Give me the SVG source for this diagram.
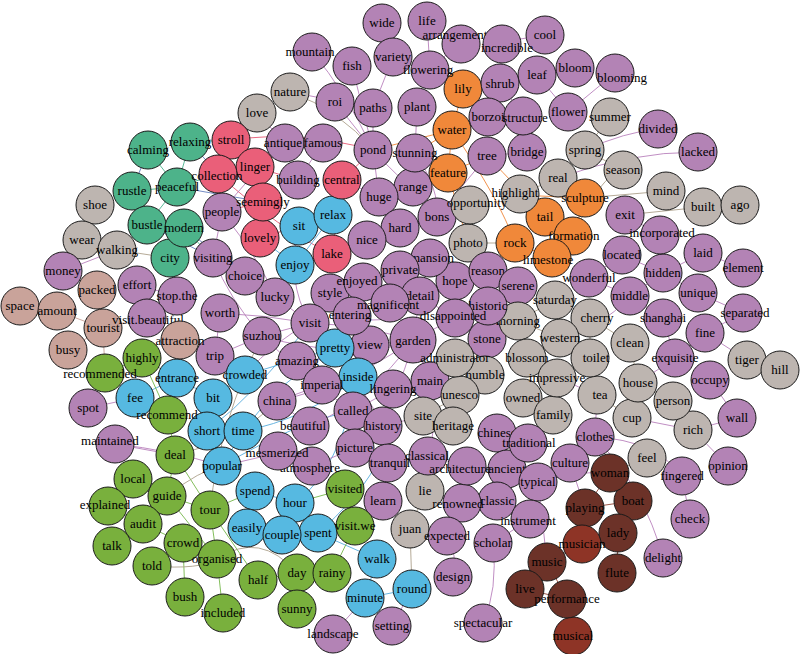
<svg xmlns="http://www.w3.org/2000/svg" width="800" height="654" viewBox="0 0 800 654">
<style>
circle{stroke:#1a1a1a;stroke-width:1}
text{font-family:"Liberation Serif","Times New Roman",serif;font-size:13px;text-anchor:middle;fill:#000}
.p circle{fill:#B383B5}.y circle{fill:#BDB5B0}.t circle{fill:#4DB38A}.r circle{fill:#EA5F79}
.b circle{fill:#56B9E1}.o circle{fill:#F0883A}.g circle{fill:#79B03D}.s circle{fill:#C9A39A}
.d circle{fill:#6C3228}.m circle{fill:#8E3426}
#edges path{fill:none;stroke-width:1;opacity:.85}
.ep{stroke:#B57AB8}.eg{stroke:#A89B85}.eb{stroke:#4FA8DA}.eG{stroke:#6DB33F}.er{stroke:#E4506C}
.eo{stroke:#EE7F2D}.et{stroke:#3FAE86}.es{stroke:#C49A90}.ed{stroke:#8A3A2A}.ek{stroke:#5A76B8}
</style>
<rect width="800" height="654" fill="#fff"/>
<g id="edges">
<path class="et" d="M148,150L177,187M190,142L177,187M132,191L177,187M177,187L147,225M147,225L184,228M184,228L170,258M190,142L231,140M177,187L218,174M184,228L213,258M170,258L177,296"/>
<path class="ek" d="M148,150L132,191M190,142L218,174M184,228L245,276M177,187L263,202M147,225Q200,250 245,276"/>
<path class="er" d="M231,140L255,167M255,167L218,174M263,202L260,238M342,180L373,150M332,254L342,180M263,202L222,212M255,167L298,180M260,238L299,226M231,140Q300,130 373,150M218,174Q280,230 332,254"/>
<path class="eb" d="M299,226L333,215M295,265L260,238M335,348L358,377M245,375L213,398M213,398L207,431M207,431L243,431M243,431L222,466M135,398L177,378M255,491L295,503M295,503L318,533M282,535L318,533M247,528L282,535M318,533L377,559M377,559L365,598M365,598L412,589M255,491L247,528M243,431Q305,420 358,377M245,375L335,348M295,265L333,215M177,378L213,398M295,503Q340,470 358,377M318,533Q390,470 383,426M243,431Q280,380 335,348M207,431Q260,390 310,323M222,466Q300,420 353,411"/>
<path class="eo" d="M463,89L452,130M452,130L448,173M448,173L413,187M452,130L373,150M448,173L487,156M545,217L515,243M515,243L552,258M573,236L585,198M545,217L573,236M585,198L518,195M448,173L468,243M463,89L488,117M452,130L415,153M448,173L470,205M552,258L573,236M487,156Q520,190 545,217M452,130Q500,200 515,243"/>
<path class="eG" d="M142,358L105,373M142,358L168,415M168,415L175,455M175,455L167,496M167,496L133,479M133,479L108,506M108,506L143,524M143,524L183,543M183,543L152,566M183,543L217,559M210,510L217,559M210,510L258,580M210,510L255,491M217,559L223,613M185,597L183,543M297,573L297,609M297,573L332,573M258,580L297,573M345,489L355,526M332,573L355,526M345,489L295,503M167,496L210,510M143,524L112,546M142,358L177,378M175,455L210,510M167,496L217,559"/>
<path class="eg" d="M290,92Q340,110 373,150M468,243L515,243M95,205L82,240M82,240L117,250M117,250L170,258M470,205L468,243M558,178L585,150M558,178L518,195M585,150L610,117M623,170L585,150M666,191L585,198M703,207L625,215M703,207L740,205M555,300L518,321M518,321L560,338M527,358L560,338M590,358L590,318M630,343L590,318M455,358L485,375M485,375L460,395M460,395L423,416M423,416L453,426M523,398L557,378M557,378L553,415M597,395L632,418M638,383L630,343M673,401L638,383M747,360L780,370M647,458L610,473M425,491L410,529M410,529L412,589M152,566Q200,570 217,559M167,496Q200,470 222,466M257,113L231,140M262,336Q220,420 210,510M175,455Q240,440 277,401M217,559Q260,530 297,573M623,170Q600,175 573,236"/>
<path class="es" d="M97,290L103,328M20,306L57,311M57,311L103,328M68,350L103,328M103,328L147,318M180,340L147,318M103,328L105,373"/>
<path class="ep" d="M312,52Q345,90 373,150M352,66L373,150M335,102L373,150M373,108L373,150M393,57L373,108M382,23L393,57M427,21L430,70M460,42L430,70M502,42L500,83M545,35L502,42M575,68L537,75M537,75L568,112M615,73L568,112M500,83L523,116M488,117L523,116M523,116L527,152M487,156L527,152M417,107L415,153M415,153L413,187M373,150L379,197M379,197L400,228M367,240L400,228M437,217L400,228M430,258L400,270M400,270L420,296M455,281L488,271M488,271L488,306M488,306L487,339M455,318L420,296M413,340L370,345M370,345L352,316M310,323L262,336M310,323L330,293M330,293L363,282M275,297L245,276M245,276L213,258M220,313L215,356M215,356L262,336M297,361L322,385M322,385L277,401M277,401L310,426M353,411L383,426M383,426L355,448M355,448L388,463M388,463L383,501M428,456L467,466M467,466L507,469M507,469L538,482M538,482L530,519M497,501L530,519M462,503L447,536M447,536Q458,555 453,577M493,543Q498,590 483,623M530,519L493,543M538,482L547,562M570,463L585,508M682,476Q655,440 595,437M690,519L682,476M663,558Q645,490 595,437M728,466L693,430M710,380L737,418M675,358L705,333M705,333L743,313M698,293L743,313M703,253L743,268M660,235L625,215M622,255L663,273M663,273L630,296M630,296L663,318M589,278L622,255M658,129Q625,132 585,150M698,152Q630,152 558,178M137,285L177,296M63,271L117,250M147,318L177,296M115,444L175,455M115,444Q170,450 222,466M88,408L135,398M333,634L365,598M392,626L412,589M285,143L323,143M298,180L323,143M290,92L373,108M257,113L285,143M222,212L213,258M430,381L413,340M393,389L353,411M497,433L528,443M595,437L570,463M312,466L278,453M312,466L355,448M278,453L222,466M675,358L663,318M693,430L632,418M737,418L693,430M310,323Q360,325 413,340M262,336Q340,360 413,340M277,401Q350,385 413,340M299,226Q285,280 310,323M245,375Q275,340 310,323M213,258Q230,300 262,336M310,426Q370,400 413,340M310,323Q360,380 383,426M413,340Q445,400 428,456M413,340Q400,400 355,448M245,276Q280,300 310,323M220,313Q265,315 310,323M222,212Q260,260 275,297M297,361Q355,360 413,340M363,282Q400,310 413,340M262,336Q320,390 353,411M455,318L413,340M420,296L413,340M430,381L460,395M383,426L423,416M388,463L428,456M352,316Q390,330 420,296M330,293L370,345M447,536L410,529M462,503L425,491M538,482Q580,470 610,473M663,273L703,253M698,293L663,273M630,296L589,278M638,383L675,358M705,333L747,360M595,437L597,395M373,150Q400,180 413,187M285,143Q250,175 222,212M380,197L342,180M487,156L437,217M415,153Q440,190 437,217M560,338Q600,330 630,296M527,358Q560,380 597,395"/>
<path class="ed" d="M547,562L567,599M525,589L567,599M547,562L582,544M582,544L585,508M585,508L633,501M633,501L618,533M618,533L617,573M610,473L633,501M573,636L567,599M610,473L585,508M582,544L618,533"/>
</g>
<g id="n-wide" class="p"><circle cx="382" cy="23" r="19"/><text x="382" y="27">wide</text></g>
<g id="n-life" class="p"><circle cx="427" cy="21" r="19"/><text x="427" y="25">life</text></g>
<g id="n-cool" class="p"><circle cx="545" cy="35" r="19"/><text x="545" y="39">cool</text></g>
<g id="n-fish" class="p"><circle cx="352" cy="66" r="19"/><text x="352" y="70">fish</text></g>
<g id="n-leaf" class="p"><circle cx="537" cy="75" r="19"/><text x="537" y="79">leaf</text></g>
<g id="n-bloom" class="p"><circle cx="575" cy="68" r="19"/><text x="575" y="72">bloom</text></g>
<g id="n-lily" class="o"><circle cx="463" cy="89" r="19"/><text x="463" y="93">lily</text></g>
<g id="n-shrub" class="p"><circle cx="500" cy="83" r="19"/><text x="500" y="88">shrub</text></g>
<g id="n-roi" class="p"><circle cx="335" cy="102" r="19"/><text x="335" y="106">roi</text></g>
<g id="n-paths" class="p"><circle cx="373" cy="108" r="19"/><text x="373" y="112">paths</text></g>
<g id="n-plant" class="p"><circle cx="417" cy="107" r="19"/><text x="417" y="111">plant</text></g>
<g id="n-love" class="y"><circle cx="257" cy="113" r="19"/><text x="257" y="117">love</text></g>
<g id="n-water" class="o"><circle cx="452" cy="130" r="19"/><text x="452" y="134">water</text></g>
<g id="n-stroll" class="r"><circle cx="231" cy="140" r="19"/><text x="231" y="144">stroll</text></g>
<g id="n-pond" class="p"><circle cx="373" cy="150" r="19"/><text x="373" y="154">pond</text></g>
<g id="n-tree" class="p"><circle cx="487" cy="156" r="19"/><text x="487" y="160">tree</text></g>
<g id="n-range" class="p"><circle cx="413" cy="187" r="19"/><text x="413" y="191">range</text></g>
<g id="n-real" class="y"><circle cx="558" cy="178" r="19"/><text x="558" y="182">real</text></g>
<g id="n-huge" class="p"><circle cx="379" cy="197" r="19"/><text x="379" y="201">huge</text></g>
<g id="n-mind" class="y"><circle cx="666" cy="191" r="19"/><text x="666" y="195">mind</text></g>
<g id="n-shoe" class="y"><circle cx="95" cy="205" r="19"/><text x="95" y="209">shoe</text></g>
<g id="n-sit" class="b"><circle cx="299" cy="226" r="19"/><text x="299" y="230">sit</text></g>
<g id="n-relax" class="b"><circle cx="333" cy="215" r="19"/><text x="333" y="219">relax</text></g>
<g id="n-hard" class="p"><circle cx="400" cy="228" r="19"/><text x="400" y="232">hard</text></g>
<g id="n-bons" class="p"><circle cx="437" cy="217" r="19"/><text x="437" y="221">bons</text></g>
<g id="n-tail" class="o"><circle cx="545" cy="217" r="19"/><text x="545" y="221">tail</text></g>
<g id="n-exit" class="p"><circle cx="625" cy="215" r="19"/><text x="625" y="219">exit</text></g>
<g id="n-built" class="y"><circle cx="703" cy="207" r="19"/><text x="703" y="211">built</text></g>
<g id="n-ago" class="y"><circle cx="740" cy="205" r="19"/><text x="740" y="209">ago</text></g>
<g id="n-wear" class="y"><circle cx="82" cy="240" r="19"/><text x="82" y="244">wear</text></g>
<g id="n-nice" class="p"><circle cx="367" cy="240" r="19"/><text x="367" y="244">nice</text></g>
<g id="n-photo" class="y"><circle cx="468" cy="243" r="19"/><text x="468" y="247">photo</text></g>
<g id="n-rock" class="o"><circle cx="515" cy="243" r="19"/><text x="515" y="247">rock</text></g>
<g id="n-city" class="t"><circle cx="170" cy="258" r="19"/><text x="170" y="262">city</text></g>
<g id="n-enjoy" class="b"><circle cx="295" cy="265" r="19"/><text x="295" y="269">enjoy</text></g>
<g id="n-lake" class="r"><circle cx="332" cy="254" r="19"/><text x="332" y="258">lake</text></g>
<g id="n-laid" class="p"><circle cx="703" cy="253" r="19"/><text x="703" y="257">laid</text></g>
<g id="n-money" class="p"><circle cx="63" cy="271" r="19"/><text x="63" y="275">money</text></g>
<g id="n-hope" class="p"><circle cx="455" cy="281" r="19"/><text x="455" y="285">hope</text></g>
<g id="n-lucky" class="p"><circle cx="275" cy="297" r="19"/><text x="275" y="301">lucky</text></g>
<g id="n-style" class="p"><circle cx="330" cy="293" r="19"/><text x="330" y="297">style</text></g>
<g id="n-space" class="s"><circle cx="20" cy="306" r="19"/><text x="20" y="310">space</text></g>
<g id="n-worth" class="p"><circle cx="220" cy="313" r="19"/><text x="220" y="317">worth</text></g>
<g id="n-visit" class="p"><circle cx="310" cy="323" r="19"/><text x="310" y="327">visit</text></g>
<g id="n-fine" class="p"><circle cx="705" cy="333" r="19"/><text x="705" y="337">fine</text></g>
<g id="n-busy" class="s"><circle cx="68" cy="350" r="19"/><text x="68" y="354">busy</text></g>
<g id="n-view" class="p"><circle cx="370" cy="345" r="19"/><text x="370" y="349">view</text></g>
<g id="n-stone" class="p"><circle cx="487" cy="339" r="19"/><text x="487" y="343">stone</text></g>
<g id="n-clean" class="y"><circle cx="630" cy="343" r="19"/><text x="630" y="347">clean</text></g>
<g id="n-trip" class="p"><circle cx="215" cy="356" r="19"/><text x="215" y="360">trip</text></g>
<g id="n-tiger" class="y"><circle cx="747" cy="360" r="19"/><text x="747" y="364">tiger</text></g>
<g id="n-hill" class="y"><circle cx="780" cy="370" r="19"/><text x="780" y="374">hill</text></g>
<g id="n-fee" class="b"><circle cx="135" cy="398" r="19"/><text x="135" y="402">fee</text></g>
<g id="n-bit" class="b"><circle cx="213" cy="398" r="19"/><text x="213" y="402">bit</text></g>
<g id="n-main" class="p"><circle cx="430" cy="381" r="19"/><text x="430" y="385">main</text></g>
<g id="n-tea" class="y"><circle cx="597" cy="395" r="19"/><text x="600" y="399">tea</text></g>
<g id="n-spot" class="p"><circle cx="88" cy="408" r="19"/><text x="88" y="412">spot</text></g>
<g id="n-china" class="p"><circle cx="277" cy="401" r="19"/><text x="277" y="405">china</text></g>
<g id="n-site" class="y"><circle cx="423" cy="416" r="19"/><text x="423" y="420">site</text></g>
<g id="n-cup" class="y"><circle cx="632" cy="418" r="19"/><text x="632" y="422">cup</text></g>
<g id="n-wall" class="p"><circle cx="737" cy="418" r="19"/><text x="737" y="422">wall</text></g>
<g id="n-rich" class="y"><circle cx="693" cy="430" r="19"/><text x="693" y="434">rich</text></g>
<g id="n-short" class="b"><circle cx="207" cy="431" r="19"/><text x="207" y="435">short</text></g>
<g id="n-time" class="b"><circle cx="243" cy="431" r="19"/><text x="243" y="435">time</text></g>
<g id="n-deal" class="g"><circle cx="175" cy="455" r="19"/><text x="175" y="459">deal</text></g>
<g id="n-feel" class="y"><circle cx="647" cy="458" r="19"/><text x="647" y="462">feel</text></g>
<g id="n-local" class="g"><circle cx="133" cy="479" r="19"/><text x="133" y="483">local</text></g>
<g id="n-guide" class="g"><circle cx="167" cy="496" r="19"/><text x="167" y="500">guide</text></g>
<g id="n-spend" class="b"><circle cx="255" cy="491" r="19"/><text x="255" y="495">spend</text></g>
<g id="n-hour" class="b"><circle cx="295" cy="503" r="19"/><text x="295" y="507">hour</text></g>
<g id="n-learn" class="p"><circle cx="383" cy="501" r="19"/><text x="383" y="505">learn</text></g>
<g id="n-lie" class="y"><circle cx="425" cy="491" r="19"/><text x="425" y="495">lie</text></g>
<g id="n-boat" class="d"><circle cx="633" cy="501" r="19"/><text x="633" y="505">boat</text></g>
<g id="n-tour" class="g"><circle cx="210" cy="510" r="19"/><text x="210" y="514">tour</text></g>
<g id="n-audit" class="g"><circle cx="143" cy="524" r="19"/><text x="143" y="528">audit</text></g>
<g id="n-spent" class="b"><circle cx="318" cy="533" r="19"/><text x="318" y="537">spent</text></g>
<g id="n-juan" class="y"><circle cx="410" cy="529" r="19"/><text x="410" y="533">juan</text></g>
<g id="n-lady" class="d"><circle cx="618" cy="533" r="19"/><text x="618" y="537">lady</text></g>
<g id="n-check" class="p"><circle cx="690" cy="519" r="19"/><text x="690" y="523">check</text></g>
<g id="n-talk" class="g"><circle cx="112" cy="546" r="19"/><text x="112" y="550">talk</text></g>
<g id="n-crowd" class="g"><circle cx="183" cy="543" r="19"/><text x="183" y="547">crowd</text></g>
<g id="n-told" class="g"><circle cx="152" cy="566" r="19"/><text x="152" y="570">told</text></g>
<g id="n-walk" class="b"><circle cx="377" cy="559" r="19"/><text x="377" y="563">walk</text></g>
<g id="n-day" class="g"><circle cx="297" cy="573" r="19"/><text x="297" y="577">day</text></g>
<g id="n-half" class="g"><circle cx="258" cy="580" r="19"/><text x="258" y="584">half</text></g>
<g id="n-rainy" class="g"><circle cx="332" cy="573" r="19"/><text x="332" y="577">rainy</text></g>
<g id="n-round" class="b"><circle cx="412" cy="589" r="19"/><text x="412" y="593">round</text></g>
<g id="n-music" class="d"><circle cx="547" cy="562" r="19"/><text x="547" y="566">music</text></g>
<g id="n-flute" class="d"><circle cx="617" cy="573" r="19"/><text x="617" y="577">flute</text></g>
<g id="n-bush" class="g"><circle cx="185" cy="597" r="19"/><text x="185" y="601">bush</text></g>
<g id="n-sunny" class="g"><circle cx="297" cy="609" r="19"/><text x="297" y="613">sunny</text></g>
<g id="n-live" class="d"><circle cx="525" cy="589" r="19"/><text x="525" y="593">live</text></g>
<g id="n-calming" class="t"><circle cx="148" cy="150" r="19"/><text x="148" y="154">calming</text></g>
<g id="n-rustle" class="t"><circle cx="132" cy="191" r="19"/><text x="132" y="195">rustle</text></g>
<g id="n-bustle" class="t"><circle cx="147" cy="225" r="19"/><text x="147" y="229">bustle</text></g>
<g id="n-modern" class="t"><circle cx="184" cy="228" r="19"/><text x="184" y="232">modern</text></g>
<g id="n-variety" class="p"><circle cx="393" cy="57" r="19"/><text x="393" y="61">variety</text></g>
<g id="n-nature" class="y"><circle cx="290" cy="92" r="19"/><text x="290" y="96">nature</text></g>
<g id="n-flower" class="p"><circle cx="568" cy="112" r="19"/><text x="568" y="116">flower</text></g>
<g id="n-borzoi" class="p"><circle cx="488" cy="117" r="19"/><text x="488" y="121">borzoi</text></g>
<g id="n-summer" class="y"><circle cx="610" cy="117" r="19"/><text x="610" y="121">summer</text></g>
<g id="n-divided" class="p"><circle cx="658" cy="129" r="19"/><text x="658" y="133">divided</text></g>
<g id="n-antique" class="p"><circle cx="285" cy="143" r="19"/><text x="283" y="147">antique</text></g>
<g id="n-famous" class="p"><circle cx="323" cy="143" r="19"/><text x="323" y="147">famous</text></g>
<g id="n-bridge" class="p"><circle cx="527" cy="152" r="19"/><text x="527" y="156">bridge</text></g>
<g id="n-spring" class="y"><circle cx="585" cy="150" r="19"/><text x="585" y="154">spring</text></g>
<g id="n-lacked" class="p"><circle cx="698" cy="152" r="19"/><text x="698" y="156">lacked</text></g>
<g id="n-linger" class="r"><circle cx="255" cy="167" r="19"/><text x="255" y="171">linger</text></g>
<g id="n-central" class="r"><circle cx="342" cy="180" r="19"/><text x="342" y="184">central</text></g>
<g id="n-feature" class="o"><circle cx="448" cy="173" r="19"/><text x="448" y="177">feature</text></g>
<g id="n-season" class="y"><circle cx="623" cy="170" r="19"/><text x="623" y="174">season</text></g>
<g id="n-people" class="p"><circle cx="222" cy="212" r="19"/><text x="222" y="216">people</text></g>
<g id="n-lovely" class="r"><circle cx="260" cy="238" r="19"/><text x="260" y="242">lovely</text></g>
<g id="n-walking" class="y"><circle cx="117" cy="250" r="19"/><text x="117" y="254">walking</text></g>
<g id="n-mansion" class="p"><circle cx="430" cy="258" r="19"/><text x="432" y="262">mansion</text></g>
<g id="n-private" class="p"><circle cx="400" cy="270" r="19"/><text x="400" y="274">private</text></g>
<g id="n-located" class="p"><circle cx="622" cy="255" r="19"/><text x="622" y="259">located</text></g>
<g id="n-choice" class="p"><circle cx="245" cy="276" r="19"/><text x="245" y="280">choice</text></g>
<g id="n-enjoyed" class="p"><circle cx="363" cy="282" r="19"/><text x="357" y="285">enjoyed</text></g>
<g id="n-reason" class="p"><circle cx="488" cy="271" r="19"/><text x="488" y="275">reason</text></g>
<g id="n-hidden" class="p"><circle cx="663" cy="273" r="19"/><text x="663" y="277">hidden</text></g>
<g id="n-element" class="p"><circle cx="743" cy="268" r="19"/><text x="743" y="272">element</text></g>
<g id="n-packed" class="s"><circle cx="97" cy="290" r="19"/><text x="97" y="294">packed</text></g>
<g id="n-effort" class="p"><circle cx="137" cy="285" r="19"/><text x="137" y="289">effort</text></g>
<g id="n-serene" class="p"><circle cx="518" cy="286" r="19"/><text x="518" y="290">serene</text></g>
<g id="n-middle" class="p"><circle cx="630" cy="296" r="19"/><text x="630" y="300">middle</text></g>
<g id="n-unique" class="p"><circle cx="698" cy="293" r="19"/><text x="698" y="297">unique</text></g>
<g id="n-amount" class="s"><circle cx="57" cy="311" r="19"/><text x="57" y="315">amount</text></g>
<g id="n-tourist" class="s"><circle cx="103" cy="328" r="19"/><text x="103" y="332">tourist</text></g>
<g id="n-suzhou" class="p"><circle cx="262" cy="336" r="19"/><text x="262" y="340">suzhou</text></g>
<g id="n-morning" class="y"><circle cx="518" cy="321" r="19"/><text x="518" y="325">morning</text></g>
<g id="n-cherry" class="y"><circle cx="590" cy="318" r="19"/><text x="597" y="322">cherry</text></g>
<g id="n-pretty" class="b"><circle cx="335" cy="348" r="19"/><text x="335" y="352">pretty</text></g>
<g id="n-garden" class="p"><circle cx="413" cy="340" r="23"/><text x="413" y="345">garden</text></g>
<g id="n-western" class="y"><circle cx="560" cy="338" r="19"/><text x="560" y="342">western</text></g>
<g id="n-amazing" class="p"><circle cx="297" cy="361" r="19"/><text x="297" y="365">amazing</text></g>
<g id="n-blossom" class="y"><circle cx="527" cy="358" r="19"/><text x="527" y="362">blossom</text></g>
<g id="n-toilet" class="y"><circle cx="590" cy="358" r="19"/><text x="596" y="362">toilet</text></g>
<g id="n-crowded" class="b"><circle cx="245" cy="375" r="19"/><text x="245" y="379">crowded</text></g>
<g id="n-inside" class="b"><circle cx="358" cy="377" r="19"/><text x="358" y="381">inside</text></g>
<g id="n-humble" class="y"><circle cx="485" cy="375" r="19"/><text x="485" y="379">humble</text></g>
<g id="n-house" class="y"><circle cx="638" cy="383" r="19"/><text x="638" y="387">house</text></g>
<g id="n-occupy" class="p"><circle cx="710" cy="380" r="19"/><text x="710" y="384">occupy</text></g>
<g id="n-unesco" class="y"><circle cx="460" cy="395" r="19"/><text x="460" y="399">unesco</text></g>
<g id="n-owned" class="y"><circle cx="523" cy="398" r="19"/><text x="523" y="402">owned</text></g>
<g id="n-person" class="y"><circle cx="673" cy="401" r="19"/><text x="673" y="405">person</text></g>
<g id="n-called" class="p"><circle cx="353" cy="411" r="19"/><text x="353" y="415">called</text></g>
<g id="n-family" class="y"><circle cx="553" cy="415" r="19"/><text x="553" y="419">family</text></g>
<g id="n-history" class="p"><circle cx="383" cy="426" r="19"/><text x="383" y="430">history</text></g>
<g id="n-chinese" class="p"><circle cx="497" cy="433" r="19"/><text x="497" y="437">chinese</text></g>
<g id="n-clothes" class="p"><circle cx="595" cy="437" r="19"/><text x="595" y="441">clothes</text></g>
<g id="n-popular" class="b"><circle cx="222" cy="466" r="19"/><text x="222" y="470">popular</text></g>
<g id="n-picture" class="p"><circle cx="355" cy="448" r="19"/><text x="355" y="452">picture</text></g>
<g id="n-ancient" class="p"><circle cx="507" cy="469" r="19"/><text x="507" y="473">ancient</text></g>
<g id="n-culture" class="p"><circle cx="570" cy="463" r="19"/><text x="570" y="467">culture</text></g>
<g id="n-woman" class="d"><circle cx="610" cy="473" r="19"/><text x="610" y="477">woman</text></g>
<g id="n-opinion" class="p"><circle cx="728" cy="466" r="19"/><text x="728" y="470">opinion</text></g>
<g id="n-visited" class="g"><circle cx="345" cy="489" r="19"/><text x="345" y="493">visited</text></g>
<g id="n-typical" class="p"><circle cx="538" cy="482" r="19"/><text x="538" y="486">typical</text></g>
<g id="n-classic" class="p"><circle cx="497" cy="501" r="19"/><text x="497" y="505">classic</text></g>
<g id="n-playing" class="d"><circle cx="585" cy="508" r="19"/><text x="585" y="512">playing</text></g>
<g id="n-easily" class="b"><circle cx="247" cy="528" r="19"/><text x="247" y="532">easily</text></g>
<g id="n-couple" class="b"><circle cx="282" cy="535" r="19"/><text x="282" y="539">couple</text></g>
<g id="n-scholar" class="p"><circle cx="493" cy="543" r="19"/><text x="493" y="547">scholar</text></g>
<g id="n-design" class="p"><circle cx="453" cy="577" r="19"/><text x="453" y="581">design</text></g>
<g id="n-delight" class="p"><circle cx="663" cy="558" r="19"/><text x="663" y="562">delight</text></g>
<g id="n-minute" class="b"><circle cx="365" cy="598" r="19"/><text x="365" y="602">minute</text></g>
<g id="n-setting" class="p"><circle cx="392" cy="626" r="19"/><text x="392" y="630">setting</text></g>
<g id="n-musical" class="m"><circle cx="573" cy="636" r="19"/><text x="573" y="640">musical</text></g>
<g id="n-relaxing" class="t"><circle cx="190" cy="142" r="19"/><text x="190" y="146">relaxing</text></g>
<g id="n-peaceful" class="t"><circle cx="177" cy="187" r="19"/><text x="177" y="191">peaceful</text></g>
<g id="n-mountain" class="p"><circle cx="312" cy="52" r="19"/><text x="310" y="56">mountain</text></g>
<g id="n-flowering" class="p"><circle cx="430" cy="70" r="19"/><text x="428" y="74">flowering</text></g>
<g id="n-blooming" class="p"><circle cx="615" cy="73" r="19"/><text x="622" y="82">blooming</text></g>
<g id="n-structure" class="p"><circle cx="523" cy="116" r="19"/><text x="525" y="122">structure</text></g>
<g id="n-stunning" class="p"><circle cx="415" cy="153" r="19"/><text x="415" y="157">stunning</text></g>
<g id="n-building" class="p"><circle cx="298" cy="180" r="19"/><text x="298" y="184">building</text></g>
<g id="n-seemingly" class="r"><circle cx="263" cy="202" r="19"/><text x="263" y="206">seemingly</text></g>
<g id="n-highlight" class="y"><circle cx="520" cy="194" r="19"/><text x="515" y="197">highlight</text></g>
<g id="n-sculpture" class="o"><circle cx="585" cy="198" r="19"/><text x="585" y="202">sculpture</text></g>
<g id="n-formation" class="o"><circle cx="573" cy="236" r="19"/><text x="574" y="240">formation</text></g>
<g id="n-limestone" class="o"><circle cx="552" cy="258" r="19"/><text x="548" y="264">limestone</text></g>
<g id="n-visiting" class="p"><circle cx="213" cy="258" r="19"/><text x="213" y="262">visiting</text></g>
<g id="n-stop.the" class="p"><circle cx="177" cy="296" r="19"/><text x="177" y="300">stop.the</text></g>
<g id="n-wonderful" class="p"><circle cx="589" cy="278" r="19"/><text x="589" y="282">wonderful</text></g>
<g id="n-saturday" class="y"><circle cx="555" cy="300" r="19"/><text x="555" y="304">saturday</text></g>
<g id="n-entering" class="p"><circle cx="352" cy="316" r="19"/><text x="350" y="319">entering</text></g>
<g id="n-shanghai" class="p"><circle cx="663" cy="318" r="19"/><text x="663" y="322">shanghai</text></g>
<g id="n-separated" class="p"><circle cx="743" cy="313" r="19"/><text x="745" y="317">separated</text></g>
<g id="n-historic" class="p"><circle cx="488" cy="306" r="19"/><text x="488" y="310">historic</text></g>
<g id="n-exquisite" class="p"><circle cx="675" cy="358" r="19"/><text x="675" y="362">exquisite</text></g>
<g id="n-lingering" class="p"><circle cx="393" cy="389" r="19"/><text x="393" y="393">lingering</text></g>
<g id="n-imperial" class="p"><circle cx="322" cy="385" r="19"/><text x="322" y="389">imperial</text></g>
<g id="n-entrance" class="b"><circle cx="177" cy="378" r="19"/><text x="177" y="382">entrance</text></g>
<g id="n-highly" class="g"><circle cx="142" cy="358" r="19"/><text x="142" y="362">highly</text></g>
<g id="n-recommend" class="g"><circle cx="168" cy="415" r="19"/><text x="167" y="419">recommend</text></g>
<g id="n-beautiful" class="p"><circle cx="310" cy="426" r="19"/><text x="303" y="430">beautiful</text></g>
<g id="n-heritage" class="y"><circle cx="453" cy="426" r="19"/><text x="453" y="430">heritage</text></g>
<g id="n-tranquil" class="p"><circle cx="388" cy="463" r="19"/><text x="390" y="467">tranquil</text></g>
<g id="n-classical" class="p"><circle cx="428" cy="456" r="19"/><text x="427" y="460">classical</text></g>
<g id="n-fingered" class="p"><circle cx="682" cy="476" r="19"/><text x="682" y="480">fingered</text></g>
<g id="n-explained" class="g"><circle cx="108" cy="506" r="19"/><text x="105" y="509">explained</text></g>
<g id="n-renowned" class="p"><circle cx="462" cy="503" r="19"/><text x="458" y="508">renowned</text></g>
<g id="n-visit.we" class="g"><circle cx="355" cy="526" r="19"/><text x="355" y="530">visit.we</text></g>
<g id="n-expected" class="p"><circle cx="447" cy="536" r="19"/><text x="447" y="540">expected</text></g>
<g id="n-musician" class="m"><circle cx="582" cy="544" r="19"/><text x="582" y="548">musician</text></g>
<g id="n-organised" class="g"><circle cx="217" cy="559" r="19"/><text x="217" y="563">organised</text></g>
<g id="n-included" class="g"><circle cx="223" cy="613" r="19"/><text x="223" y="617">included</text></g>
<g id="n-landscape" class="p"><circle cx="333" cy="634" r="19"/><text x="333" y="638">landscape</text></g>
<g id="n-arrangement" class="p"><circle cx="461" cy="44" r="19"/><text x="455" y="39">arrangement</text></g>
<g id="n-incredible" class="p"><circle cx="502" cy="44" r="19"/><text x="507" y="52">incredible</text></g>
<g id="n-collection" class="r"><circle cx="218" cy="174" r="19"/><text x="217" y="180">collection</text></g>
<g id="n-opportunity" class="y"><circle cx="470" cy="205" r="19"/><text x="477" y="207">opportunity</text></g>
<g id="n-incorporated" class="p"><circle cx="660" cy="235" r="19"/><text x="662" y="237">incorporated</text></g>
<g id="n-detail" class="p"><circle cx="420" cy="296" r="19"/><text x="420" y="300">detail</text></g>
<g id="n-magnificent" class="p"><circle cx="390" cy="303" r="19"/><text x="388" y="309">magnificent</text></g>
<g id="n-visit.beautiful" class="p"><circle cx="147" cy="318" r="19"/><text x="148" y="324">visit.beautiful</text></g>
<g id="n-disappointed" class="p"><circle cx="455" cy="318" r="19"/><text x="453" y="320">disappointed</text></g>
<g id="n-attraction" class="s"><circle cx="180" cy="340" r="19"/><text x="180" y="345">attraction</text></g>
<g id="n-administrator" class="y"><circle cx="455" cy="358" r="19"/><text x="455" y="362">administrator</text></g>
<g id="n-recommended" class="g"><circle cx="105" cy="373" r="19"/><text x="100" y="378">recommended</text></g>
<g id="n-impressive" class="y"><circle cx="557" cy="378" r="19"/><text x="557" y="382">impressive</text></g>
<g id="n-traditional" class="p"><circle cx="528" cy="443" r="19"/><text x="529" y="447">traditional</text></g>
<g id="n-maintained" class="p"><circle cx="115" cy="444" r="19"/><text x="110" y="445">maintained</text></g>
<g id="n-atmosphere" class="p"><circle cx="312" cy="466" r="19"/><text x="310" y="472">atmosphere</text></g>
<g id="n-mesmerized" class="p"><circle cx="278" cy="451" r="19"/><text x="277" y="457">mesmerized</text></g>
<g id="n-architecture" class="p"><circle cx="467" cy="466" r="19"/><text x="460" y="473">architecture</text></g>
<g id="n-instrument" class="p"><circle cx="530" cy="519" r="19"/><text x="528" y="525">instrument</text></g>
<g id="n-performance" class="d"><circle cx="567" cy="599" r="19"/><text x="567" y="603">performance</text></g>
<g id="n-spectacular" class="p"><circle cx="483" cy="623" r="19"/><text x="483" y="627">spectacular</text></g>
</svg>
